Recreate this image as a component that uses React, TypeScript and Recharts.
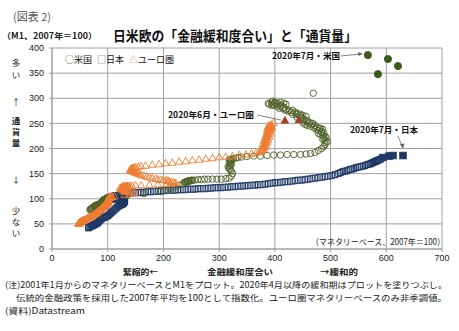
import React from "react";
import {
  ScatterChart,
  Scatter,
  XAxis,
  YAxis,
  CartesianGrid,
} from "recharts";

// マネタリーベース(x)とM1(y)、2007年平均=100。2001年1月〜2020年3月（白抜き）
const usBase = [
  68, 69, 70, 71, 72, 73, 74, 80, 76, 76, 77, 78, // 2001
  78, 79, 80, 81, 82, 83, 84, 85, 86, 86, 87, 88, // 2002
  88, 89, 90, 90, 91, 92, 92, 93, 93, 94, 94, 95, // 2003
  96, 97, 97, 98, 98, 99, 99, 100, 100, 100, 101, 101, // 2004-07
  102, 103, 105, 110, 135, 165, 195, // 2008
  205, 212, 220, 228, 235, 240, 244, 246, 243, 240, 238, 241, // 2009
  244, 246, 250, 252, 248, 245, 250, 256, 262, 268, 274, 280, // 2010
  288, 296, 304, 312, 318, 322, 324, 322, 320, 318, 316, 318, // 2011
  320, 322, 320, 318, 320, 322, 320, 318, 322, 326, 330, 334, // 2012
  340, 350, 362, 374, 386, 398, 410, 422, 434, 446, 456, 464, // 2013
  472, 478, 484, 488, 490, 492, 494, 490, 486, 488, 492, 490, // 2014
  486, 482, 478, 484, 488, 484, 478, 474, 480, 486, 482, 476, // 2015
  470, 464, 458, 466, 472, 468, 460, 454, 450, 456, 462, 458, // 2016
  452, 446, 440, 448, 456, 450, 444, 438, 432, 440, 446, 436, // 2017
  430, 424, 418, 426, 432, 420, 414, 408, 416, 410, 404, 398, // 2018
  394, 390, 388, 394, 400, 396, 404, 410, 416, 420, 412, 406, // 2019
  400, 396, 469, // 2020
];
const usM1 = [
  78, 79, 80, 80, 81, 82, 83, 86, 84, 85, 85, 86,
  86, 87, 87, 88, 88, 89, 89, 89, 90, 90, 91, 92,
  92, 93, 94, 95, 96, 97, 97, 98, 98, 98, 99, 99,
  99, 100, 100, 100, 101, 100, 100, 100, 99, 99, 100, 100,
  100, 101, 102, 104, 107, 110, 114,
  117, 120, 124, 127, 130, 132, 134, 135, 134, 133, 133, 134,
  135, 135, 136, 137, 136, 136, 137, 137, 138, 138, 139, 139,
  139, 139, 139, 140, 141, 145, 150, 155, 158, 160, 163, 165,
  166, 168, 170, 172, 174, 175, 177, 178, 179, 180, 181, 182,
  183, 184, 185, 185, 186, 187, 187, 188, 188, 188, 189, 190,
  192, 196, 200, 204, 208, 212, 214, 216, 218, 220, 222, 224,
  226, 228, 230, 232, 230, 234, 236, 238, 240, 238, 240, 242,
  242, 244, 246, 248, 246, 250, 250, 248, 252, 254, 252, 256,
  258, 260, 262, 262, 264, 266, 266, 268, 268, 270, 268, 272,
  272, 274, 276, 276, 276, 278, 280, 280, 282, 284, 284, 286,
  286, 288, 290, 292, 290, 288, 290, 292, 290, 288, 286, 288,
  292, 294, 310,
];
// 2020年4月〜7月（塗りつぶし）
const usBase2020 = [585, 621, 603, 567];
const usM12020 = [348, 364, 378, 386];

const jpBase = [
  65, 66, 68, 70, 72, 74, 75, 77, 79, 80, 82, 83, // 2001
  84, 86, 88, 90, 92, 94, 96, 98, 100, 102, 104, 106, // 2002
  108, 110, 112, 114, 116, 118, 120, 122, 124, 126, 127, 128, // 2003
  129, 130, 128, 129, 130, 131, 129, 130, 131, 130, 129, 128, // 2004
  127, 128, 126, 125, 124, 122, 120, 118, 116, 114, 112, 110, // 2005
  108, 106, 104, 102, 101, 100, 99, 100, 100, 101, 100, 101, // 2006
  100, 102, 104, 103, 105, 106, 104, 108, 110, 112, 110, 114, // 2007-10
  116, 120, 124, 128, 126, 130, 132, 130, 134, 136, // 2011-12
  142, 148, 154, 160, 166, 172, 178, 184, 190, 196, 202, 208, // 2013
  214, 220, 226, 232, 238, 244, 250, 256, 262, 268, 274, 280, // 2014
  286, 292, 298, 304, 310, 316, 322, 328, 334, 340, 346, 352, // 2015
  358, 364, 370, 376, 382, 388, 394, 400, 406, 412, 418, 424, // 2016
  430, 436, 442, 448, 454, 460, 466, 472, 478, 484, 490, 496, // 2017
  502, 508, 514, 518, 522, 526, 530, 534, 538, 542, 546, 550, // 2018
  554, 558, 562, 566, 570, 572, 574, 576, 578, 580, 582, 584, // 2019
  586, 588, 590, // 2020
];
const jpM1 = [
  42, 43, 44, 45, 46, 47, 48, 49, 50, 51, 52, 53,
  55, 57, 59, 61, 62, 63, 64, 65, 66, 68, 70, 72,
  74, 76, 78, 80, 82, 84, 86, 87, 88, 89, 90, 91,
  92, 93, 93, 94, 95, 95, 96, 96, 97, 97, 98, 98,
  98, 99, 99, 99, 99, 100, 100, 100, 100, 100, 100, 100,
  100, 99, 99, 99, 99, 99, 99, 100, 100, 100, 100, 101,
  100, 101, 101, 102, 102, 103, 103, 104, 104, 105, 105, 106,
  106, 107, 107, 108, 108, 109, 109, 110, 110, 110,
  111, 112, 112, 113, 113, 114, 114, 115, 115, 116, 116, 117,
  117, 117, 118, 118, 118, 119, 119, 119, 120, 120, 120, 121,
  121, 122, 122, 122, 123, 123, 124, 124, 125, 125, 126, 126,
  127, 127, 128, 128, 129, 130, 131, 132, 132, 133, 134, 134,
  135, 136, 137, 137, 138, 139, 140, 141, 142, 143, 144, 145,
  146, 148, 150, 152, 154, 155, 156, 158, 159, 160, 162, 163,
  164, 165, 166, 168, 169, 170, 171, 172, 173, 174, 175, 176,
  177, 178, 179,
];
const jpBase2020 = [594, 605, 612, 630];
const jpM12020 = [182, 185, 186, 186];

const euBase = [
  48, 47, 49, 50, 51, 52, 50, 52, 54, 56, 55, 58, // 2001
  54, 56, 58, 60, 62, 63, 64, 66, 67, 68, 70, 72, // 2002
  72, 73, 75, 76, 78, 79, 80, 81, 82, 83, 84, 86, // 2003
  85, 86, 87, 88, 89, 90, 91, 92, 93, 94, 95, 96, // 2004
  96, 97, 98, 99, 100, 101, 100, 101, 102, 101, 102, 103, // 2005-07
  101, 102, 104, 103, 105, 106, 107, 108, 112, 130, 140, 148, // 2008
  140, 135, 132, 130, 128, 134, 130, 126, 124, 126, 128, 132, // 2009
  126, 124, 122, 128, 132, 138, 130, 126, 130, 134, 128, 136, // 2010
  130, 128, 132, 134, 136, 140, 144, 150, 160, 175, 190, 205, // 2011
  212, 220, 222, 218, 214, 210, 208, 205, 200, 195, 190, 186, // 2012
  180, 175, 170, 165, 160, 158, 155, 152, 150, 148, 146, 145, // 2013
  143, 142, 140, 142, 144, 145, 143, 146, 148, 150, 155, 160, // 2014
  168, 180, 192, 204, 216, 228, 240, 252, 264, 276, 288, 300, // 2015
  312, 324, 336, 348, 358, 366, 372, 375, 377, 376, 378, 380, // 2016
  378, 382, 380, 384, 380, 378, 382, 386, 384, 380, 384, 388, // 2017
  384, 382, 386, 390, 386, 384, 388, 392, 388, 386, 390, 392, // 2018
  388, 386, 390, 394, 390, 388, 392, 394, 390, 388, 392, 394, // 2019
  390, 394, 398, // 2020
];
const euM1 = [
  50, 51, 52, 52, 53, 53, 54, 55, 55, 56, 57, 57,
  56, 57, 58, 59, 60, 61, 62, 63, 63, 64, 65, 66,
  66, 67, 68, 69, 70, 71, 72, 73, 74, 75, 76, 77,
  77, 78, 79, 80, 81, 82, 83, 84, 85, 86, 86, 87,
  88, 89, 90, 91, 92, 93, 94, 95, 96, 98, 99, 101,
  101, 102, 102, 103, 103, 104, 104, 104, 105, 108, 110, 112,
  113, 114, 115, 116, 117, 118, 118, 119, 119, 120, 121, 121,
  121, 122, 122, 122, 123, 123, 123, 124, 124, 124, 125, 125,
  125, 125, 125, 125, 126, 126, 126, 127, 127, 128, 129, 130,
  130, 131, 132, 133, 134, 135, 136, 137, 138, 138, 139, 140,
  141, 143, 144, 146, 147, 149, 150, 151, 152, 153, 154, 155,
  156, 157, 158, 159, 160, 160, 161, 162, 162, 163, 164, 165,
  166, 168, 169, 171, 172, 174, 175, 177, 178, 180, 181, 183,
  184, 185, 187, 188, 190, 191, 193, 194, 196, 197, 198, 200,
  201, 203, 204, 206, 207, 209, 210, 212, 213, 215, 216, 218,
  219, 221, 222, 224, 225, 227, 228, 230, 231, 233, 234, 236,
  237, 238, 239, 240, 241, 242, 243, 243, 244, 244, 245, 245,
  246, 248, 251,
];
const euBase2020 = [418, 443];
const euM12020 = [256, 257];

const xTicks = [0, 100, 200, 300, 400, 500, 600, 700];
const yTicks = [0, 50, 100, 150, 200, 250, 300, 350, 400];

const US = "#4f6228";
const US_FILL = "#3b5a1e";
const JP = "#1f3864";
const EU = "#ed7d31";
const EU_FILL = "#9a4520";
const GRID = "#a0a0a0";
const JA = "'Noto Sans CJK JP', sans-serif";
const NUM = "'Liberation Sans', Arial, sans-serif";

const toPoints = (xs: number[], ys: number[]) =>
  xs.map((x, i) => ({ x, y: ys[i] }));

const circle = (filled: boolean) => (p: any) =>
  (
    <circle
      cx={p.cx}
      cy={p.cy}
      r={filled ? 3.6 : 3.2}
      fill={filled ? US_FILL : "none"}
      stroke={filled ? US_FILL : US}
      strokeWidth={0.9}
    />
  );

const square = (filled: boolean) => (p: any) => {
  const w = filled ? 6.5 : 5.2;
  const h = filled ? 6.5 : 6;
  return (
    <rect
      x={p.cx - w / 2}
      y={p.cy - h / 2}
      width={w}
      height={h}
      fill={filled ? JP : "none"}
      stroke={JP}
      strokeWidth={1}
    />
  );
};

const triangle = (filled: boolean) => (p: any) => {
  const { cx, cy } = p;
  const pts = `${cx},${cy - 3.8} ${cx - 3.6},${cy + 2.7} ${cx + 3.6},${cy + 2.7}`;
  return (
    <polygon
      points={pts}
      fill={filled ? EU_FILL : "none"}
      stroke={filled ? EU_FILL : EU}
      strokeWidth={0.9}
    />
  );
};

const vLabel = [
  { ch: "多", y: 66, b: false },
  { ch: "い", y: 78, b: false },
  { ch: "↑", y: 105, b: false },
  { ch: "通", y: 124, b: true },
  { ch: "貨", y: 135, b: true },
  { ch: "量", y: 146, b: true },
  { ch: "↓", y: 183, b: false },
  { ch: "少", y: 214, b: false },
  { ch: "な", y: 225, b: false },
  { ch: "い", y: 236, b: false },
];

export default function App() {
  return (
    <div
      style={{
        position: "absolute",
        left: 0,
        top: 0,
        width: 459,
        height: 331,
        background: "#fff",
      }}
    >
      <ScatterChart
        width={459}
        height={331}
        margin={{ top: 48, right: 17, bottom: 62, left: 0 }}
      >
        <CartesianGrid stroke={GRID} strokeWidth={1} />
        <XAxis
          type="number"
          dataKey="x"
          domain={[0, 700]}
          ticks={xTicks}
          height={20}
          tickSize={3}
          tickMargin={3}
          stroke={GRID}
          tick={{ fill: "#222", fontSize: 9, fontFamily: NUM }}
        />
        <YAxis
          type="number"
          dataKey="y"
          domain={[0, 400]}
          ticks={yTicks}
          width={52}
          tickSize={3}
          tickMargin={5}
          stroke={GRID}
          tick={{ fill: "#222", fontSize: 9, fontFamily: NUM }}
        />
        <Scatter
          data={toPoints(jpBase, jpM1)}
          shape={square(false)}
          isAnimationActive={false}
        />
        <Scatter
          data={toPoints(usBase, usM1)}
          shape={circle(false)}
          isAnimationActive={false}
        />
        <Scatter
          data={toPoints(euBase, euM1)}
          shape={triangle(false)}
          isAnimationActive={false}
        />
        <Scatter
          data={toPoints(jpBase2020, jpM12020)}
          shape={square(true)}
          isAnimationActive={false}
        />
        <Scatter
          data={toPoints(usBase2020, usM12020)}
          shape={circle(true)}
          isAnimationActive={false}
        />
        <Scatter
          data={toPoints(euBase2020, euM12020)}
          shape={triangle(true)}
          isAnimationActive={false}
        />
      </ScatterChart>

      <svg
        width={459}
        height={331}
        style={{ position: "absolute", left: 0, top: 0, pointerEvents: "none" }}
        fontFamily={JA}
      >
        <text x={13} y={21} fontSize={11} fill="#555">
          (図表 2)
        </text>
        <text x={2} y={39} fontSize={8.5} fontWeight="bold" fill="#222" textLength={95} lengthAdjust="spacingAndGlyphs">
          （M1、2007年＝100）
        </text>
        <text x={113} y={41} fontSize={14} fontWeight="bold" fill="#111" textLength={244} lengthAdjust="spacingAndGlyphs">
          日米欧の「金融緩和度合い」と「通貨量」
        </text>

        {vLabel.map((v, i) => (
          <text key={i} x={16} y={v.y} fontSize={8.5} fontWeight={v.b ? "bold" : "normal"} textAnchor="middle" fill="#222">
            {v.ch}
          </text>
        ))}

        {/* 凡例 */}
        <text x={65} y={63} fontSize={9} fill="#111">
          <tspan fill={US}>○</tspan>米国
          <tspan fill={JP} dx={5}>□</tspan>日本
          <tspan fill={EU} dx={5}>△</tspan>ユーロ圏
        </text>

        {/* 注記 */}
        <text x={272} y={59} fontSize={8.5} fontWeight="bold" fill="#111" textLength={68} lengthAdjust="spacingAndGlyphs">
          2020年7月・米国
        </text>
        <line x1={341} y1={56} x2={360} y2={54} stroke="#666" strokeWidth={0.8} />
        <polygon points="363,53.7 358,52 358.5,56" fill="#666" />

        <text x={168} y={118} fontSize={8.5} fontWeight="bold" fill="#111" textLength={86} lengthAdjust="spacingAndGlyphs">
          2020年6月・ユーロ圏
        </text>
        <line x1={257} y1={115} x2={281} y2={120} stroke="#666" strokeWidth={0.8} />

        <text x={350} y={133} fontSize={8.5} fontWeight="bold" fill="#111" textLength={68} lengthAdjust="spacingAndGlyphs">
          2020年7月・日本
        </text>
        <line x1={398} y1={136} x2={402} y2={146} stroke="#666" strokeWidth={0.8} />
        <polygon points="403,149 400,144 404.5,143.5" fill="#666" />

        <text x={445} y={245} fontSize={8.5} fill="#222" textAnchor="end" textLength={134} lengthAdjust="spacingAndGlyphs">
          （マネタリーベース、2007年＝100）
        </text>

        <text x={123} y={275} fontSize={8.5} fontWeight="bold" fill="#222" textLength={35} lengthAdjust="spacingAndGlyphs">
          緊縮的←
        </text>
        <text x={207} y={275} fontSize={8.5} fontWeight="bold" fill="#222" textLength={66} lengthAdjust="spacingAndGlyphs">
          金融緩和度合い
        </text>
        <text x={320} y={275} fontSize={8.5} fontWeight="bold" fill="#222" textLength={38} lengthAdjust="spacingAndGlyphs">
          →緩和的
        </text>

        <text x={5} y={288} fontSize={8.5} fill="#222" textLength={442} lengthAdjust="spacingAndGlyphs">
          (注)2001年1月からのマネタリーベースとM1をプロット。2020年4月以降の緩和期はプロットを塗りつぶし。
        </text>
        <text x={16} y={301} fontSize={8.5} fill="#222" textLength={431} lengthAdjust="spacingAndGlyphs">
          伝統的金融政策を採用した2007年平均を100として指数化。ユーロ圏マネタリーベースのみ非季調値。
        </text>
        <text x={5} y={314} fontSize={8.5} fill="#222" textLength={80} lengthAdjust="spacingAndGlyphs">
          (資料)Datastream
        </text>
      </svg>
    </div>
  );
}
